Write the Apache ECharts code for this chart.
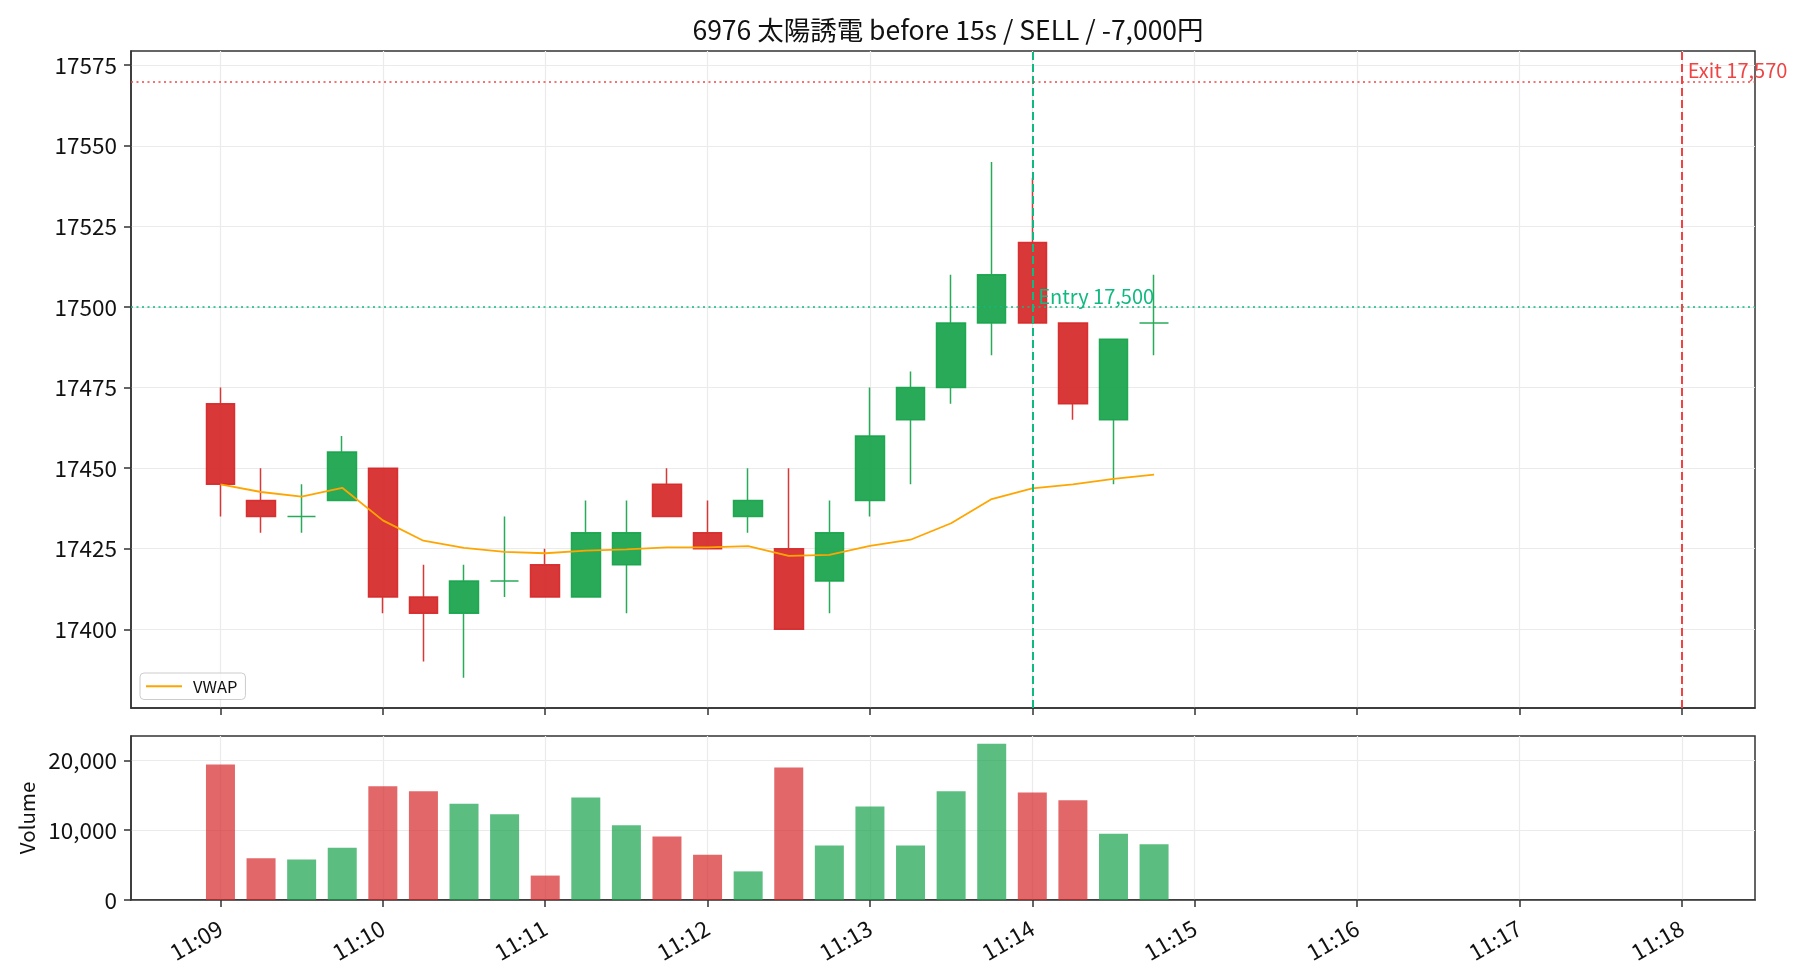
<!DOCTYPE html>
<html>
<head>
<meta charset="utf-8">
<script src="https://cdn.jsdelivr.net/npm/echarts@6/dist/echarts.min.js"></script>
<style>
  html, body { margin: 0; padding: 0; background: #fff; }
  #main { width: 1820px; height: 980px; }
</style>
</head>
<body>
<div id="main"></div>
<script>
// 15秒足データ
const times = ['11:09:00', '11:09:15', '11:09:30', '11:09:45', '11:10:00', '11:10:15', '11:10:30', '11:10:45',
               '11:11:00', '11:11:15', '11:11:30', '11:11:45', '11:12:00', '11:12:15', '11:12:30', '11:12:45',
               '11:13:00', '11:13:15', '11:13:30', '11:13:45', '11:14:00', '11:14:15', '11:14:30', '11:14:45'];
const opens  = [17470, 17440, 17435, 17440, 17450, 17410, 17405, 17415, 17420, 17410, 17420, 17445,
                17430, 17435, 17425, 17415, 17440, 17465, 17475, 17495, 17520, 17495, 17465, 17495];
const closes = [17445, 17435, 17435, 17455, 17410, 17405, 17415, 17415, 17410, 17430, 17430, 17435,
                17425, 17440, 17400, 17430, 17460, 17475, 17495, 17510, 17495, 17470, 17490, 17495];
const lows   = [17435, 17430, 17430, 17440, 17405, 17390, 17385, 17410, 17410, 17410, 17405, 17435,
                17425, 17430, 17400, 17405, 17435, 17445, 17470, 17485, 17495, 17465, 17445, 17485];
const highs  = [17475, 17450, 17445, 17460, 17450, 17420, 17420, 17435, 17425, 17440, 17440, 17450,
                17440, 17450, 17450, 17440, 17475, 17480, 17510, 17545, 17540, 17495, 17490, 17510];
const volumes = [19400, 6000, 5800, 7500, 16300, 15600, 13800, 12300, 3500, 14700, 10700, 9100,
                 6500, 4100, 19000, 7800, 13400, 7800, 15600, 22400, 15400, 14300, 9500, 8000];
const vwap = [17445, 17442.6, 17441.2, 17443.9, 17433.8, 17427.5, 17425.3, 17424.0, 17423.6, 17424.4, 17424.8, 17425.4,
              17425.4, 17425.8, 17422.8, 17423.1, 17425.9, 17427.8, 17432.9, 17440.4, 17443.7, 17445.0, 17446.7, 17448.0];

const timeTicks = ['11:09', '11:10', '11:11', '11:12', '11:13', '11:14', '11:15', '11:16', '11:17', '11:18'];
const priceTicks = [17400, 17425, 17450, 17475, 17500, 17525, 17550, 17575];
const volumeTicks = [0, 10000, 20000];

const entryTime = '11:14:00', entryPrice = 17500;
const exitTime = '11:18:00', exitPrice = 17570;

const UP = '#16a34a', DOWN = '#d62728';
const ENTRY_C = '#10b981', EXIT_C = '#ef4444';
const FONT = '"Noto Sans CJK JP", "Noto Sans", sans-serif';

// 11:00からの分
function toMin(t) {
    const p = t.split(':').map(Number);
    return (p[0] - 11) * 60 + p[1] + (p[2] || 0) / 60;
}
const xs = times.map(toMin);
const xTickVals = timeTicks.map(toMin);
const fmtTime = v => '11:' + String(Math.round(v)).padStart(2, '0');
const fmtNum = v => Number(v).toLocaleString('en-US');

const candleData = xs.map((x, i) => [x, opens[i], closes[i], lows[i], highs[i]]);
const vwapData = xs.map((x, i) => [x, vwap[i]]);
const volData = xs.map((x, i) => ({
    value: [x, volumes[i]],
    itemStyle: {color: closes[i] < opens[i] ? DOWN : UP}
}));

const X_MIN = 8.449, X_MAX = 18.451;

const xAxisCommon = {
    type: 'value',
    min: X_MIN,
    max: X_MAX,
    axisLine: {show: true, lineStyle: {color: '#333', width: 1.5}},
    axisTick: {show: true, length: 7, customValues: xTickVals, lineStyle: {color: '#333', width: 1.5}},
    splitLine: {show: true, lineStyle: {color: '#ebebeb', width: 1.2}},
};

let myChart = echarts.init(document.getElementById('main'));
let option = {
    animation: false,
    textStyle: {fontFamily: FONT},
    title: {
        text: '6976 太陽誘電 before 15s / SELL / -7,000円',
        left: 943,
        textAlign: 'center',
        top: 12,
        textStyle: {fontSize: 26.5, fontWeight: 'normal', color: '#111', fontFamily: FONT}
    },
    legend: {
        data: [{name: 'VWAP', icon: 'rect'}],
        left: 140,
        top: 673,
        itemWidth: 36,
        itemHeight: 2,
        padding: [5, 8, 5, 6],
        borderColor: '#cccccc',
        borderWidth: 1,
        borderRadius: 4,
        backgroundColor: 'rgba(255,255,255,0.8)',
        textStyle: {fontSize: 16.5, color: '#111', fontFamily: FONT, padding: [0, 0, 0, 6]}
    },
    grid: [
        {left: 131, width: 1624, top: 51, height: 657, show: true, borderColor: '#333', borderWidth: 1.5},
        {left: 131, width: 1624, top: 736, height: 164, show: true, borderColor: '#333', borderWidth: 1.5}
    ],
    xAxis: [
        Object.assign({}, xAxisCommon, {gridIndex: 0, axisLabel: {show: false}}),
        Object.assign({}, xAxisCommon, {
            gridIndex: 1,
            axisLabel: {
                show: true, customValues: xTickVals, formatter: fmtTime, rotate: 30,
                margin: 26, fontSize: 22.5, color: '#111', fontFamily: FONT
            }
        })
    ],
    yAxis: [
        {
            type: 'value', gridIndex: 0, min: 17375.6, max: 17579.4,
            axisLine: {show: true, lineStyle: {color: '#333', width: 1.5}},
            axisTick: {show: true, length: 7, customValues: priceTicks, lineStyle: {color: '#333', width: 1.5}},
            axisLabel: {customValues: priceTicks, formatter: v => String(v), margin: 14, fontSize: 22.5, color: '#111', fontFamily: FONT},
            splitLine: {show: true, lineStyle: {color: '#ebebeb', width: 1.2}}
        },
        {
            type: 'value', gridIndex: 1, min: 0, max: 23500,
            name: 'Volume', nameLocation: 'middle', nameGap: 92,
            nameTextStyle: {fontSize: 20.5, color: '#111', fontFamily: FONT},
            axisLine: {show: true, lineStyle: {color: '#333', width: 1.5}},
            axisTick: {show: true, length: 7, customValues: volumeTicks, lineStyle: {color: '#333', width: 1.5}},
            axisLabel: {customValues: volumeTicks, formatter: fmtNum, margin: 14, fontSize: 22.5, color: '#111', fontFamily: FONT},
            splitLine: {show: true, lineStyle: {color: '#ebebeb', width: 1.2}}
        }
    ],
    series: [
        {
            name: 'price',
            type: 'candlestick',
            xAxisIndex: 0, yAxisIndex: 0,
            barWidth: 29,
            encode: {x: 0, y: [1, 2, 3, 4]},
            data: candleData,
            itemStyle: {
                color: UP, color0: DOWN,
                borderColor: UP, borderColor0: DOWN, borderColorDoji: UP,
                borderWidth: 1.5, opacity: 0.92
            },
            markLine: {
                silent: true,
                symbol: ['none', 'none'],
                label: {show: false},
                z: 10,
                data: [
                    {yAxis: entryPrice, lineStyle: {color: ENTRY_C, type: [2, 3.5], width: 1.5}},
                    {xAxis: toMin(entryTime), lineStyle: {color: ENTRY_C, type: [8, 4], width: 2}},
                    {yAxis: exitPrice, lineStyle: {color: EXIT_C, type: [2, 3.5], width: 1.5}},
                    {xAxis: toMin(exitTime), lineStyle: {color: EXIT_C, type: [8, 4], width: 2}}
                ]
            },
            markPoint: {
                silent: true,
                symbol: 'rect',
                symbolSize: 0,
                data: [
                    {
                        coord: [toMin(entryTime), entryPrice],
                        label: {
                            show: true, formatter: 'Entry ' + fmtNum(entryPrice), position: [6, -1],
                            align: 'left', verticalAlign: 'bottom', color: ENTRY_C, fontSize: 20, fontFamily: FONT
                        }
                    },
                    {
                        coord: [toMin(exitTime), exitPrice],
                        label: {
                            show: true, formatter: 'Exit ' + fmtNum(exitPrice), position: [6, -1],
                            align: 'left', verticalAlign: 'bottom', color: EXIT_C, fontSize: 20, fontFamily: FONT
                        }
                    }
                ]
            }
        },
        {
            name: 'VWAP',
            type: 'line',
            xAxisIndex: 0, yAxisIndex: 0,
            data: vwapData,
            symbol: 'none',
            lineStyle: {color: '#ffa500', width: 1.8},
            itemStyle: {color: '#ffa500'},
            z: 3
        },
        {
            name: 'Volume',
            type: 'bar',
            xAxisIndex: 1, yAxisIndex: 1,
            barWidth: 29,
            data: volData,
            itemStyle: {opacity: 0.7}
        }
    ]
};
myChart.setOption(option);
</script>
</body>
</html>
